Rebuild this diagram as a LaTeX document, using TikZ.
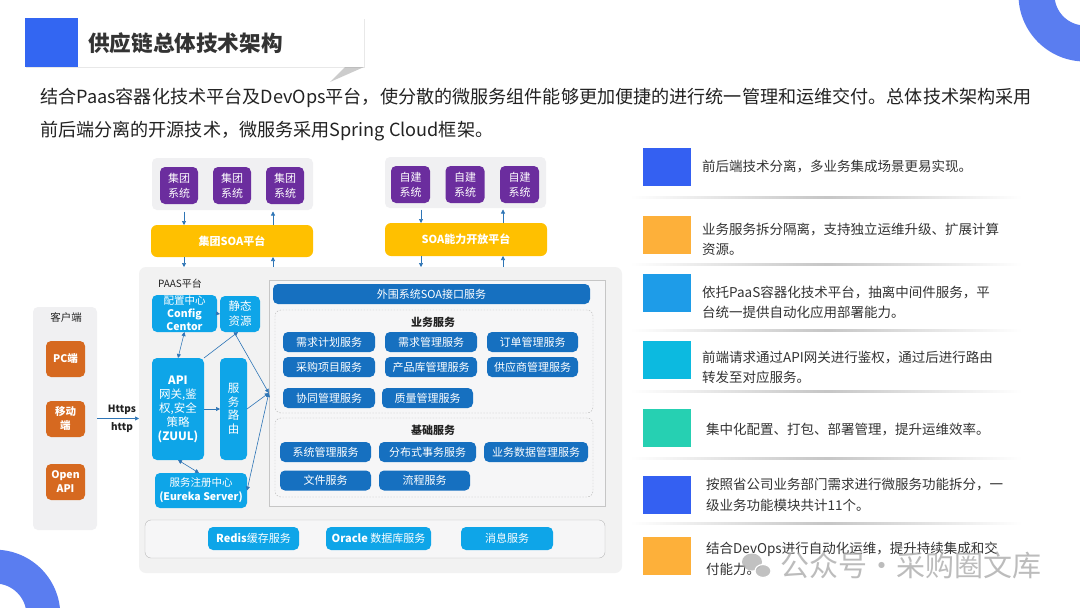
\documentclass[tikz,border=0pt]{standalone}
\usepackage{fontspec}
\setmainfont{Noto Sans CJK SC}
\setsansfont{Noto Sans CJK SC}
\usetikzlibrary{arrows.meta,shadows}
\definecolor{ringblue}{RGB}{90,125,240}
\definecolor{tblue}{RGB}{51,102,242}
\definecolor{tgray}{RGB}{51,51,51}
\definecolor{txt}{RGB}{34,34,34}
\definecolor{cpurple}{RGB}{107,45,158}
\definecolor{cyellow}{RGB}{255,192,0}
\definecolor{corange}{RGB}{214,105,32}
\definecolor{clblue}{RGB}{14,165,232}
\definecolor{cdblue}{RGB}{22,112,192}
\definecolor{cgray}{RGB}{240,240,242}
\definecolor{cpaas}{RGB}{242,242,242}
\definecolor{cframe}{RGB}{246,246,247}
\definecolor{aline}{RGB}{46,117,182}
\definecolor{iblue}{RGB}{52,96,242}
\definecolor{iorange}{RGB}{253,176,58}
\definecolor{isky}{RGB}{30,156,232}
\definecolor{icyan}{RGB}{12,186,224}
\definecolor{iteal}{RGB}{38,208,178}
\newcommand\fsz[2]{\fontsize{#1}{#2}\selectfont}
\begin{document}
\begin{tikzpicture}[x=1pt,y=-1pt,
  box/.style={inner sep=0pt, outer sep=0pt, align=center, text=white},
  panel/.style={inner sep=0pt, outer sep=0pt, fill=cgray, rounded corners=5pt},
  purplebox/.style={box, fill=cpurple, rounded corners=5pt, minimum width=38pt, minimum height=37pt, font=\fsz{11}{15}},
  ybox/.style={box, fill=cyellow, rounded corners=6pt, minimum width=162pt, minimum height=32pt, font=\fsz{11}{13}\bfseries},
  obox/.style={box, fill=corange, rounded corners=5pt, minimum width=39pt, minimum height=36pt, font=\fsz{10.5}{14}\bfseries},
  lbox/.style={box, fill=clblue, rounded corners=5pt, font=\fsz{10.5}{13}},
  sbox/.style={box, fill=cdblue, rounded corners=5pt, minimum width=92pt, minimum height=20pt, font=\fsz{11}{13}},
  dframe/.style={inner sep=0pt, draw=gray!60, dash pattern=on 1.5pt off 1.5pt, rounded corners=6pt, fill=cframe},
  sq/.style={inner sep=0pt, minimum width=48pt, minimum height=38pt},
  itxt/.style={anchor=west, align=left, text=tgray, font=\fsz{13.5}{20.5}, inner sep=0pt},
  tip/.tip={Triangle[length=4pt,width=4pt]},
  arr/.style={draw=aline, line width=0.6pt, -tip},
  arrb/.style={draw=aline, line width=0.6pt, tip-tip},
  sep/.style={left color=white, right color=white, middle color=gray!45}
]
\useasboundingbox (0,0) rectangle (1080,608);
\clip (0,0) rectangle (1080,608);
\fill[white] (0,0) rectangle (1080,608);

% decorative rings
\fill[ringblue, even odd rule] (1085,-5) circle[radius=66.5pt] (1085,-5) circle[radius=30.5pt];
\fill[ringblue, even odd rule] (-5,615) circle[radius=65.3pt] (-5,615) circle[radius=31.5pt];

% title
\fill[black!20] (330,82) -- (345,67) -- (364,67) -- cycle;
\node[fill=white, drop shadow={opacity=0.18,shadow xshift=0.8pt,shadow yshift=-0.8pt}, minimum width=339pt, minimum height=49pt, inner sep=0pt, anchor=north west] (titlebox) at (25,18) {};
\node[fill=tblue, minimum width=53pt, minimum height=49pt, inner sep=0pt, anchor=north west] (tsq) at (titlebox.north west) {};
\node[anchor=west, font=\fsz{21.6}{24}\bfseries, text=tgray, inner sep=0pt] (title) at (88,43) {供应链总体技术架构};

% paragraph
\node[anchor=west, font=\fsz{18.1}{22}, text=txt, inner sep=0pt] (p1) at (40,98) {结合Paas容器化技术平台及DevOps平台，使分散的微服务组件能够更加便捷的进行统一管理和运维交付。总体技术架构采用};
\node[anchor=west, font=\fsz{18.1}{22}, text=txt, inner sep=0pt] (p2) at (40,131) {前后端分离的开源技术，微服务采用Spring Cloud框架。};

% top group panels
\node[panel, minimum width=161pt, minimum height=52pt] (g1) at (232.5,184) {};
\node[purplebox] (g1a) at (179,185.5) {集团\\系统};
\node[purplebox] (g1b) at (232,185.5) {集团\\系统};
\node[purplebox] (g1c) at (285,185.5) {集团\\系统};
\node[panel, minimum width=161pt, minimum height=51pt] (g2) at (465.5,182.5) {};
\node[purplebox, minimum width=39pt] (g2a) at (410.5,184.5) {自建\\系统};
\node[purplebox, minimum width=39pt] (g2b) at (465,184.5) {自建\\系统};
\node[purplebox, minimum width=39pt] (g2c) at (519.5,184.5) {自建\\系统};

\node[ybox] (soa1) at (232,241) {集团SOA平台};
\node[ybox, minimum height=33pt] (soa2) at (466,239.5) {SOA能力开放平台};

% PAAS panel
\node[panel, fill=cpaas, rounded corners=7pt, minimum width=483pt, minimum height=306pt] (paas) at (380.5,420) {};
\node[font=\fsz{10}{12}, text=txt] (paaslbl) at (180,284) {PAAS平台};

% vertical connectors
\coordinate (xa) at (184,0);
\coordinate (xb) at (273,0);
\coordinate (xc) at (421,0);
\coordinate (xd) at (503,0);
\draw[arr, shorten <=1.5pt] (g1.south -| xa) -- (soa1.north -| xa);
\draw[arr, shorten >=1.5pt] (soa1.north -| xb) -- (g1.south -| xb);
\draw[arr] (soa1.south -| xa) -- (paas.north -| xa);
\draw[arr] (paas.north -| xb) -- (soa1.south -| xb);
\draw[arr, shorten <=1.5pt] (g2.south -| xc) -- (soa2.north -| xc);
\draw[arr, shorten >=1.5pt] (soa2.north -| xd) -- (g2.south -| xd);
\draw[arr] (soa2.south -| xc) -- (paas.north -| xc);
\draw[arr] (paas.north -| xd) -- (soa2.south -| xd);

% client panel
\node[panel, minimum width=64pt, minimum height=223pt] (client) at (65,418.5) {};
\node[font=\fsz{10.5}{12}, text=txt] (clbl) at (66,317) {客户端};
\node[obox] (pc) at (65.5,359) {PC端};
\node[obox] (mob) at (65.5,419) {移动\\端};
\node[obox] (oapi) at (65.5,482) {Open\\API};
\node[font=\fsz{10}{12}\bfseries, text=txt] (https) at (122,410) {Https};
\node[font=\fsz{10}{12}\bfseries, text=txt] (httpl) at (122,428) {http};
\draw[arr] (client.east) -- (client.east -| paas.west);

% left PAAS components
\node[lbox, minimum width=65pt, minimum height=37pt] (cfg) at (184.5,313.5) {配置中心\\\textbf{Config}\\\textbf{Centor}};
\node[lbox, minimum width=40pt, minimum height=36pt, font=\fsz{11.5}{15}] (static) at (240,314) {静态\\资源};
\node[lbox, minimum width=52pt, minimum height=102pt, font=\fsz{11.5}{14}] (api) at (178,409) {\textbf{API}\\网关,鉴\\权,安全\\策略\\\textbf{(ZUUL)}};
\node[lbox, minimum width=27pt, minimum height=102pt, font=\fsz{11.5}{13.5}] (route) at (233.5,409) {服\\务\\路\\由};
\node[lbox, minimum width=92pt, minimum height=35pt, font=\fsz{10.5}{14}] (eureka) at (201,490.5) {服务注册中心\\\textbf{(Eureka Server)}};

% services frame
\node[inner sep=0pt, draw=gray!45, fill=cframe, minimum width=336pt, minimum height=226pt] (svc) at (437,393) {};
\node[box, fill=cdblue, rounded corners=5pt, minimum width=317pt, minimum height=20pt, font=\fsz{11}{13}] (soaif) at (431.5,294) {外围系统SOA接口服务};

\node[dframe, minimum width=318pt, minimum height=103pt] (biz) at (434,361.5) {};
\node[font=\fsz{11}{13}\bfseries, text=txt] (bizlbl) at (433,322) {业务服务};
\node[sbox] (b1) at (329,342) {需求计划服务};
\node[sbox] (b2) at (431,342) {需求管理服务};
\node[sbox, minimum width=91pt] (b3) at (532.5,342) {订单管理服务};
\node[sbox] (b4) at (329,367) {采购项目服务};
\node[sbox] (b5) at (431,367) {产品库管理服务};
\node[sbox, minimum width=91pt] (b6) at (532.5,367) {供应商管理服务};
\node[sbox] (b7) at (329,398) {协同管理服务};
\node[sbox, minimum width=91pt] (b8) at (427.5,398) {质量管理服务};

\node[dframe, minimum width=318pt, minimum height=79pt] (base) at (434,457.5) {};
\node[font=\fsz{11}{13}\bfseries, text=txt] (baselbl) at (433,430) {基础服务};
\node[sbox, minimum width=91pt] (f1) at (325.5,452) {系统管理服务};
\node[sbox, minimum width=97pt] (f2) at (427.5,452) {分布式事务服务};
\node[sbox, minimum width=104pt] (f3) at (536,452) {业务数据管理服务};
\node[sbox, minimum width=91pt] (f4) at (325.5,480.5) {文件服务};
\node[sbox, minimum width=91pt] (f5) at (424.5,480.5) {流程服务};

% bottom middleware
\node[inner sep=0pt, draw=gray!55, fill=cframe, rounded corners=6pt, minimum width=460pt, minimum height=38pt] (mw) at (375,539) {};
\node[lbox, minimum width=91pt, minimum height=23pt, font=\fsz{11}{13}] (redis) at (253.5,538.5) {\textbf{Redis}缓存服务};
\node[lbox, minimum width=105pt, minimum height=23pt, font=\fsz{11}{13}] (oracle) at (378.5,538.5) {\textbf{Oracle} 数据库服务};
\node[lbox, minimum width=92pt, minimum height=23pt, font=\fsz{11}{13}] (msg) at (507,538.5) {消息服务};

% PAAS internal connectors
\draw[arrb] (cfg.south) -- (api.north);
\draw[arr] (cfg.east) -- (static.west);
\draw[arr] (api.north east) -- ([xshift=-2pt]static.south);
\draw[arr] (api.east) -- (route.west);
\draw[arr] ([xshift=-6pt]static.south) -- (svc.west);
\draw[arr] (route.east) -- (svc.west);
\draw[arrb] (eureka.east) -- (svc.west);
\draw[arrb] (api.south) -- ([xshift=-2pt]eureka.north);

% right list
\node[sq, fill=iblue] (s1) at (667,167) {};
\node[itxt] (t1) at (702,167) {前后端技术分离，多业务集成场景更易实现。};
\shade[sep] (630,196) rectangle (1022,198.5);
\node[sq, fill=iorange] (s2) at (667,234.5) {};
\node[itxt] (t2) at (702,239.5) {业务服务拆分隔离，支持独立运维升级、扩展计算\\资源。};
\shade[sep] (630,263) rectangle (1022,265.5);
\node[sq, fill=isky] (s3) at (667,293) {};
\node[itxt] (t3) at (702,302.5) {依托PaaS容器化技术平台，抽离中间件服务，平\\台统一提供自动化应用部署能力。};
\shade[sep] (630,329) rectangle (1022,331.5);
\node[sq, fill=icyan] (s4) at (667,359.5) {};
\node[itxt] (t4) at (702,367.5) {前端请求通过API网关进行鉴权，通过后进行路由\\转发至对应服务。};
\shade[sep] (630,390) rectangle (1022,392.5);
\node[sq, fill=iteal] (s5) at (667,427.5) {};
\node[itxt] (t5) at (706,430) {集中化配置、打包、部署管理，提升运维效率。};
\shade[sep] (630,457) rectangle (1022,459.5);
\node[sq, fill=iblue] (s6) at (667,494.5) {};
\node[itxt] (t6) at (706,495) {按照省公司业务部门需求进行微服务功能拆分，一\\级业务功能模块共计11个。};
\shade[sep] (630,522) rectangle (1022,524.5);
\node[sq, fill=iorange] (s7) at (667,555.5) {};
\node[itxt] (t7) at (706,559) {结合DevOps进行自动化运维，提升持续集成和交\\付能力。};

% watermark
\fill[gray!60, opacity=0.8] (752,562) ellipse[x radius=10pt, y radius=8.5pt];
\draw[white, line width=1.2pt, fill=gray!60, fill opacity=0.8] (763,571) ellipse[x radius=8pt, y radius=6.5pt];
\node[font=\fsz{29}{32}, text=gray!65, opacity=0.8, inner sep=0pt] (wm) at (911,565) {公众号·采购圈文库};
\end{tikzpicture}
\end{document}
